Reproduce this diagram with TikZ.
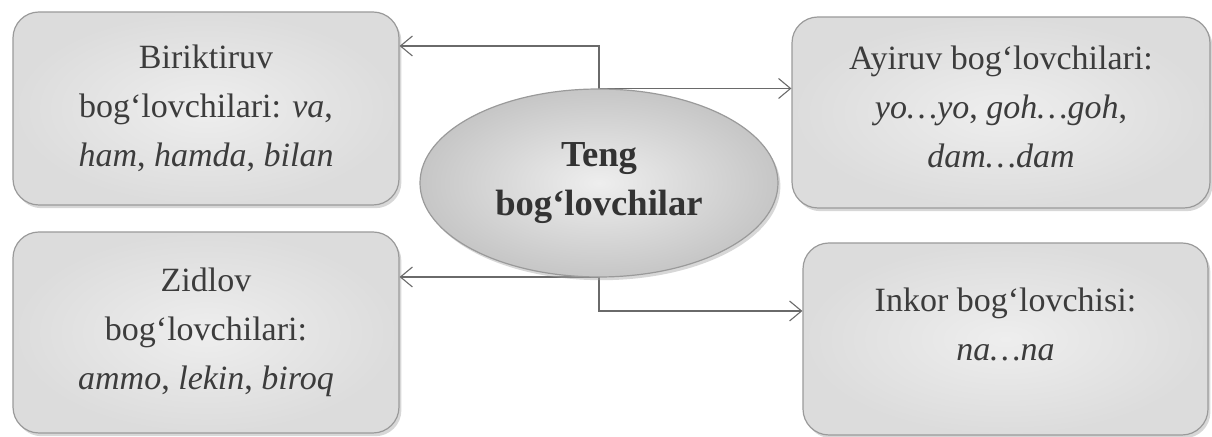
\documentclass[tikz,border=0pt]{standalone}
\usepackage{fontspec}
\setmainfont{Liberation Serif}
\usetikzlibrary{shapes.geometric,arrows.meta,shadows}
\definecolor{boxfill}{HTML}{DCDCDC}
\definecolor{boxlite}{HTML}{EEEEEE}
\definecolor{edge}{HTML}{9A9A9A}
\definecolor{ink}{HTML}{3C3C3C}
\definecolor{wire}{HTML}{6A6A6A}
\tikzset{
  infobox/.style={draw=edge, line width=0.6pt, rounded corners=13pt,
    inner color=boxlite, outer color=boxfill,
    drop shadow={shadow xshift=1.2pt, shadow yshift=-1.6pt, opacity=0.45, fill=gray!70},
    text=ink, align=center, font=\fontsize{17}{24.5}\selectfont},
  hub/.style={ellipse, draw=edge, line width=0.6pt, inner sep=0pt,
    inner color=boxlite, outer color=boxfill!90!black,
    drop shadow={shadow xshift=1.2pt, shadow yshift=-1.6pt, opacity=0.45, fill=gray!70},
    text=ink!85!black, align=center, font=\fontsize{18.3}{24.5}\selectfont\bfseries,
    minimum width=179pt, minimum height=94pt},
  wirearrow/.style={draw=wire, line width=0.55pt, -{Straight Barb[length=6pt, width=10pt, line width=0.55pt]}}
}
\begin{document}
\begin{tikzpicture}[x=0.5pt, y=-0.5pt]
\useasboundingbox (0,0) rectangle (1212,437);
\node[infobox, minimum width=193pt, minimum height=96.5pt] (tl) at (206,108.5)
  {Biriktiruv\\bog‘lovchilari: \textit{va},\\\textit{ham}, \textit{hamda}, \textit{bilan}};
\node[infobox, minimum width=193pt, minimum height=100.5pt] (bl) at (206,332.5)
  {Zidlov\\bog‘lovchilari:\\\textit{ammo}, \textit{lekin}, \textit{biroq}};
\node[infobox, minimum width=209pt, minimum height=95.5pt] (tr) at (1001,112.5)
  {Ayiruv bog‘lovchilari:\\\textit{yo\dots yo}, \textit{goh\dots goh},\\\textit{dam\dots dam}\\[-18.5pt]};
\node[infobox, minimum width=202.5pt, minimum height=96pt] (br) at (1005.5,339)
  {Inkor bog‘lovchisi:\\\textit{na\dots na}\\[-9.5pt]};
\coordinate (k1) at (599,46);
\coordinate (k2) at (599,311);
\draw[wirearrow] (599,89) -- (k1) -- (k1 -| tl.east);
\draw[wirearrow] (599,88.5) -- (599,88.5 -| tr.west);
\draw[wirearrow] (599,277) -- (599,277 -| bl.east);
\draw[wirearrow] (599,277) -- (k2) -- (k2 -| br.west);
\node[hub] (hub) at (599,183) {Teng\\bog‘lovchilar};
\end{tikzpicture}
\end{document}
